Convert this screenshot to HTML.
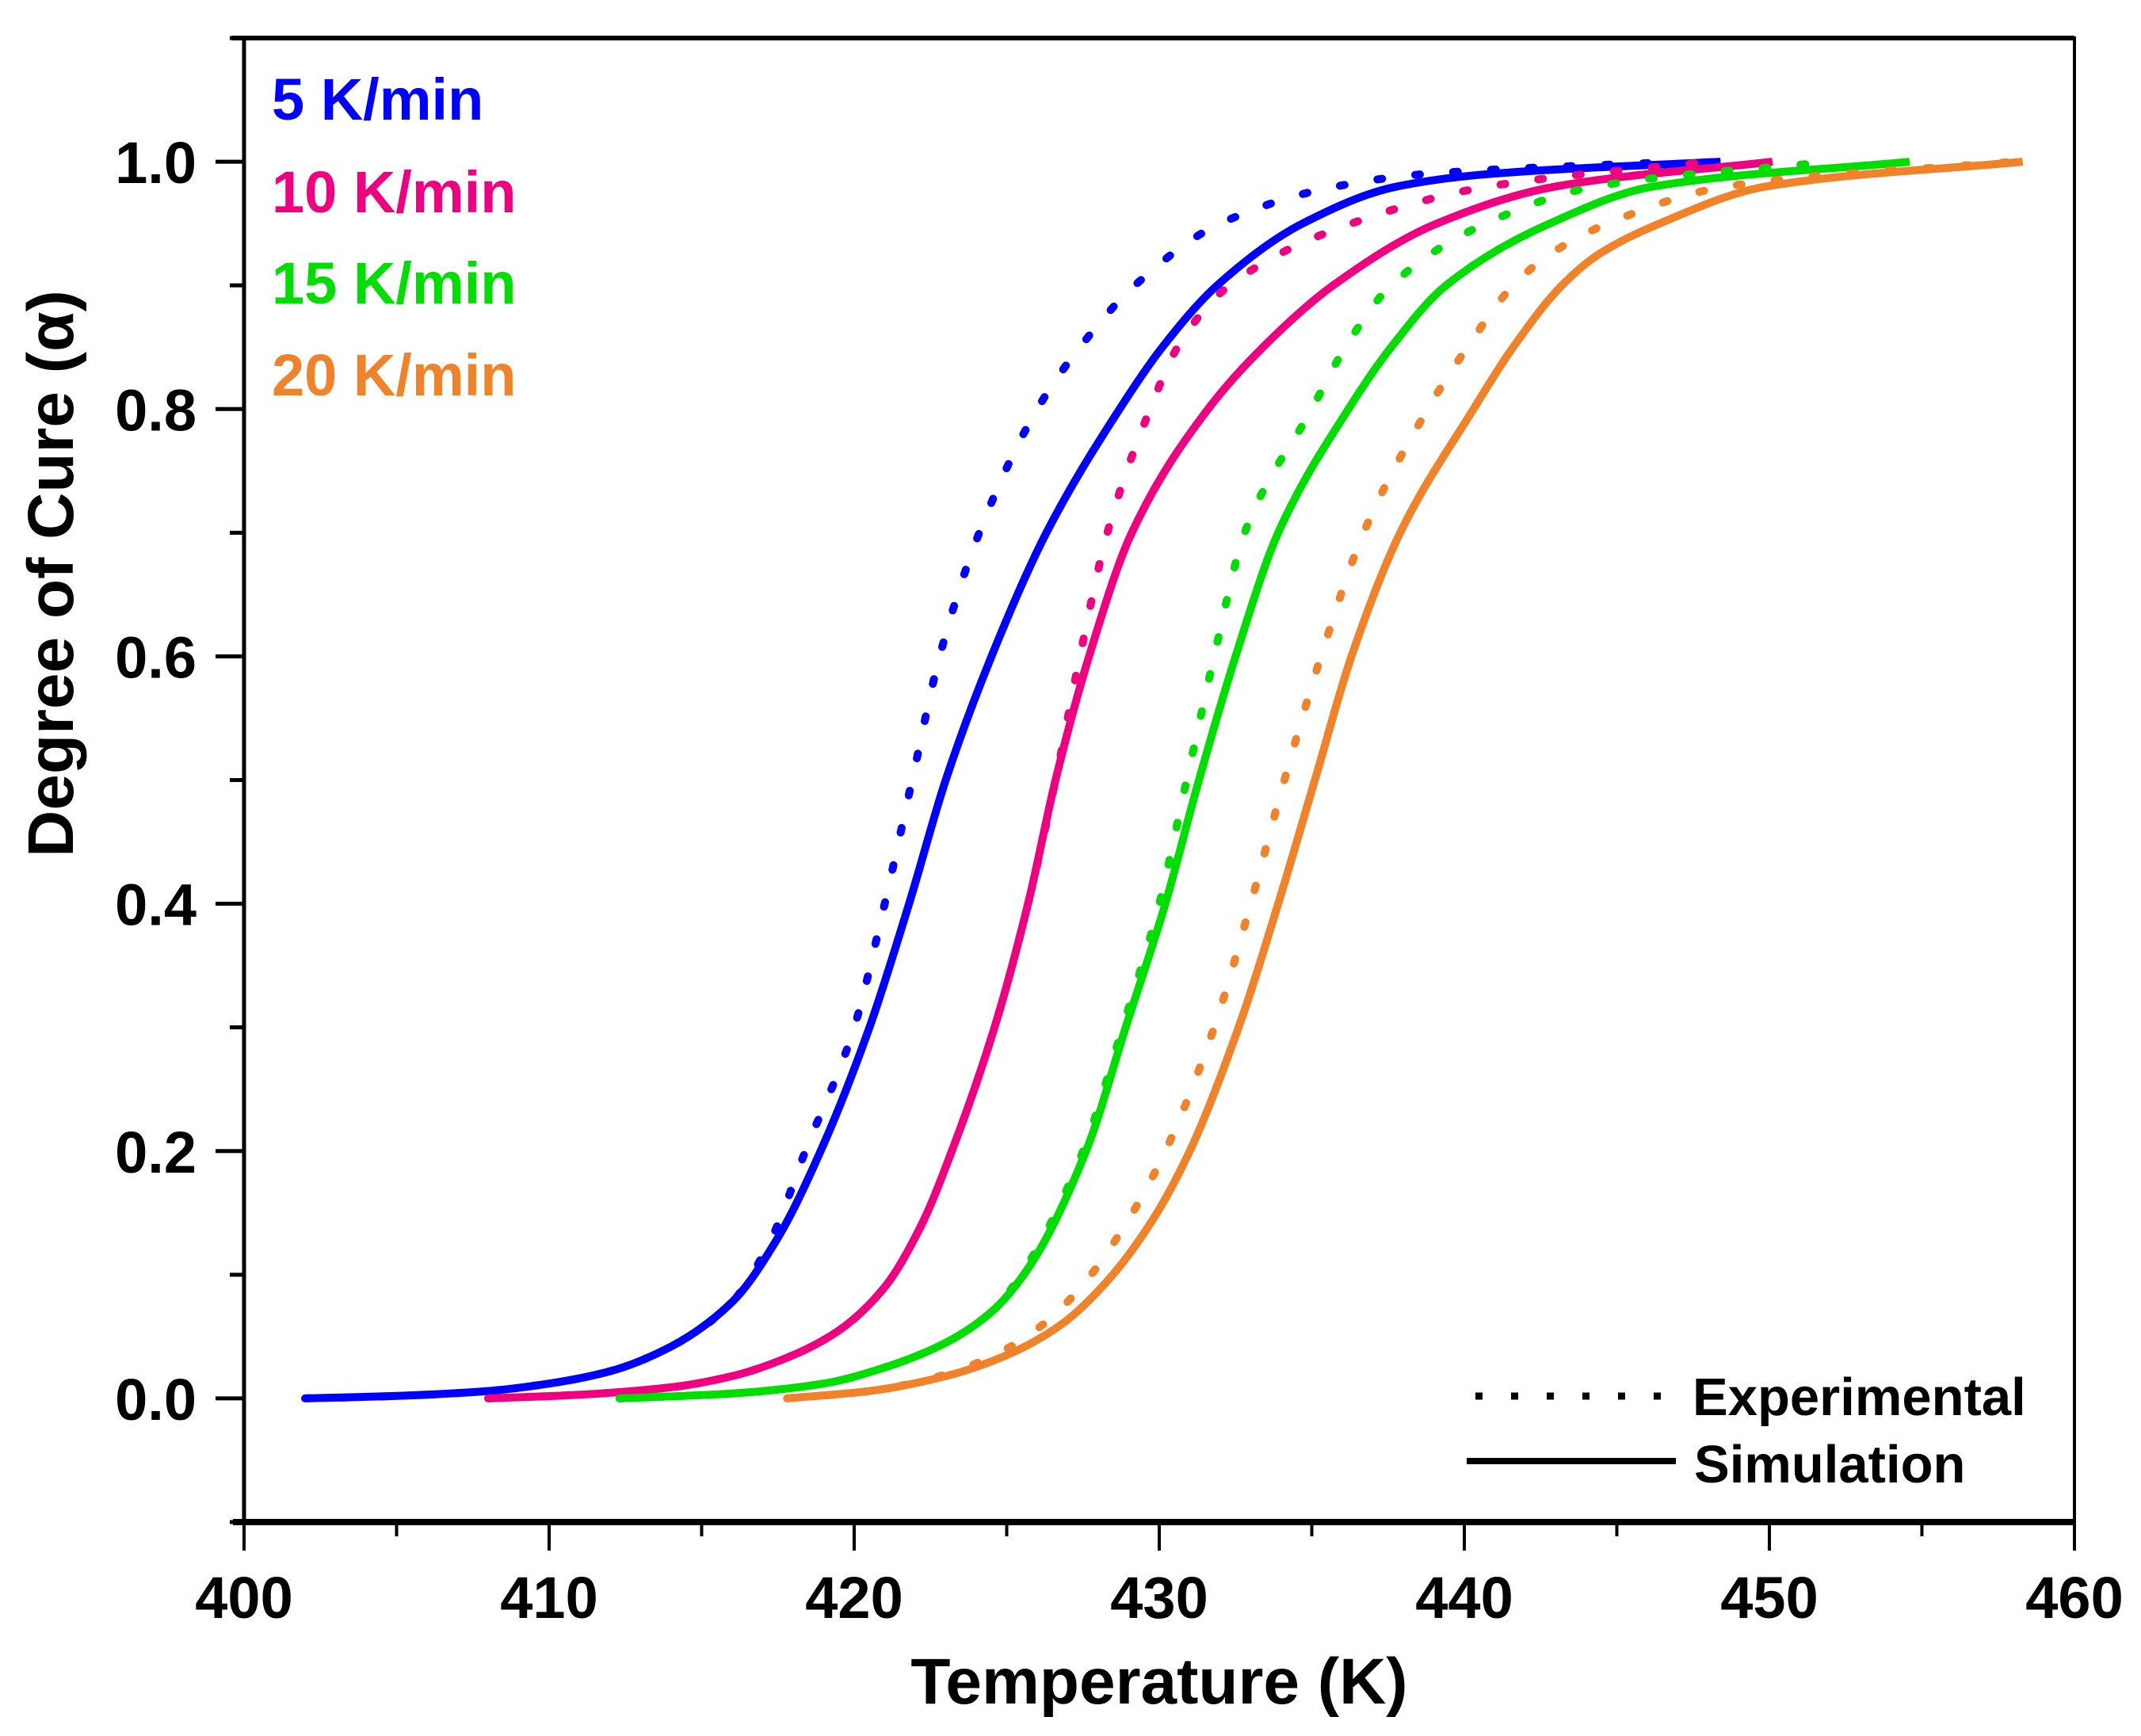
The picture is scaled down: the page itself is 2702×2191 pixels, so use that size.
<!DOCTYPE html>
<html><head><meta charset="utf-8"><style>
html,body{margin:0;padding:0;background:#fff;}
svg{display:block;font-family:"Liberation Sans",Arial,sans-serif;font-weight:bold;}
</style></head><body>
<svg id="chart" width="2702" height="2191" viewBox="0 0 2702 2191" xmlns="http://www.w3.org/2000/svg">
<g id="plot"></g>
<g id="axes"></g>
<text x="1463" y="2150" font-size="82" text-anchor="middle">Temperature (K)</text>
<text x="0" y="0" font-size="82" text-anchor="middle" transform="translate(92,724) rotate(-90)">Degree of Cure (α)</text>
<g font-size="74">
<text x="343" y="151" fill="#0000ff">5 K/min</text>
<text x="343" y="268" fill="#ee0080">10 K/min</text>
<text x="343" y="383" fill="#00dd00">15 K/min</text>
<text x="343" y="499" fill="#f0822a">20 K/min</text>
</g>
<g font-size="67">
<line x1="1862" y1="1762" x2="2118" y2="1762" stroke="#000" stroke-width="9" stroke-dasharray="9 36"/>
<text x="2136" y="1786">Experimental</text>
<line x1="1851" y1="1844" x2="2115" y2="1844" stroke="#000" stroke-width="8"/>
<text x="2138" y="1871">Simulation</text>
</g>
</svg>
<script>
const xTicks=[400,410,420,430,440,450,460];
const yTicks=[0.0,0.2,0.4,0.6,0.8,1.0];
const blueSimT=[402,405,408,410,412,414,416,417.5,418.9,420.5,421.8,423.0,424.5,426.3,428.7,430.1,431.9,434.7,437.8,440.8,448.4];
const blueSimA=[0,0.002,0.006,0.012,0.022,0.042,0.078,0.13,0.2,0.3,0.4,0.5,0.6,0.7,0.8,0.85,0.9,0.95,0.98,0.99,1];
const blueExpT=[402,405,408,410,412,414,416,417.3,418.4,420.0,421.0,421.9,422.8,424.1,426.0,427.4,429.2,432.0,435.8,438.7,447];
const blueExpA=[0,0.002,0.006,0.012,0.022,0.042,0.078,0.13,0.2,0.3,0.4,0.5,0.6,0.7,0.8,0.85,0.9,0.95,0.98,0.99,1];
const pinkSimT=[408,411,414,416,418,419.5,421,422.2,423.2,424.6,425.7,426.6,427.7,429.1,431.6,433.4,435.7,439.1,443,450.1];
const pinkSimA=[0,0.003,0.009,0.018,0.035,0.055,0.09,0.14,0.2,0.3,0.4,0.5,0.6,0.7,0.8,0.85,0.9,0.95,0.98,1];
const pinkExpT=[408,411,414,416,418,419.5,421,422.2,423.2,424.6,425.7,426.6,427.4,428.3,429.7,430.6,432.3,436.3,440.8,448];
const pinkExpA=[0,0.003,0.009,0.018,0.035,0.055,0.09,0.14,0.2,0.3,0.4,0.5,0.6,0.7,0.8,0.85,0.9,0.95,0.98,1];
const greenSimT=[412.3,416,419,421,423,424.5,425.7,427.6,428.9,430.2,431.3,432.5,433.9,436.2,437.6,439.4,442.8,446.2,454.6];
const greenSimA=[0,0.004,0.012,0.025,0.045,0.07,0.105,0.2,0.3,0.4,0.5,0.6,0.7,0.8,0.85,0.9,0.95,0.98,1];
const greenExpT=[412.3,416,419,421,423,424.5,425.6,427.5,428.8,430,430.9,431.8,432.8,435.0,436.1,437.6,440.7,444.3,452];
const greenExpA=[0,0.004,0.012,0.025,0.045,0.07,0.105,0.2,0.3,0.4,0.5,0.6,0.7,0.8,0.85,0.9,0.95,0.98,1];
const orangeSimT=[417.8,420.5,423,425,426.8,428.3,429.8,431,432.6,433.9,435.1,436.3,437.9,440.3,441.6,443.2,444.4,446.4,449.9,458.3];
const orangeSimA=[0,0.006,0.018,0.035,0.06,0.095,0.145,0.2,0.3,0.4,0.5,0.6,0.7,0.8,0.85,0.9,0.925,0.95,0.98,1];
const orangeExpT=[417.8,420.5,422.8,424.6,426.2,427.6,429.0,430.2,431.8,433,434.1,435.3,436.7,438.8,440.1,441.6,442.8,444.7,448.6,458];
const orangeExpA=[0,0.006,0.018,0.035,0.06,0.095,0.145,0.2,0.3,0.4,0.5,0.6,0.7,0.8,0.85,0.9,0.925,0.95,0.98,1];
const seriesNames=['5-kmin','10-kmin','15-kmin','20-kmin'];
const seriesColors=['#0000ff','#ee0080','#00dd00','#f0822a'];

const X0=308,X1=2618,Y0=1921,Y1=48,XMIN=400,XMAX=460,YMIN=-0.1,YMAX=1.1;
const sx=v=>X0+(v-XMIN)/(XMAX-XMIN)*(X1-X0);
const sy=v=>Y0-(v-YMIN)/(YMAX-YMIN)*(Y0-Y1);
const NS='http://www.w3.org/2000/svg';
const plot=document.getElementById('plot');
const axes=document.getElementById('axes');
function mk(tag,attrs,parent){const e=document.createElementNS(NS,tag);for(const k in attrs)e.setAttribute(k,attrs[k]);parent.appendChild(e);return e;}
function pathFrom(T,A){
  const x=T.map(sx),y=A.map(sy),n=x.length;
  const d=[],m=new Array(n);
  for(let i=0;i<n-1;i++)d.push((y[i+1]-y[i])/(x[i+1]-x[i]));
  m[0]=d[0];m[n-1]=d[n-2];
  for(let i=1;i<n-1;i++){
    if(d[i-1]*d[i]<=0)m[i]=0;
    else{const h0=x[i]-x[i-1],h1=x[i+1]-x[i];const w1=2*h1+h0,w2=h1+2*h0;m[i]=(w1+w2)/(w1/d[i-1]+w2/d[i]);}
  }
  let s='M'+x[0].toFixed(1)+','+y[0].toFixed(1);
  for(let i=0;i<n-1;i++){
    const h=(x[i+1]-x[i])/3;
    s+=' C'+(x[i]+h).toFixed(1)+','+(y[i]+m[i]*h).toFixed(1)+' '+(x[i+1]-h).toFixed(1)+','+(y[i+1]-m[i+1]*h).toFixed(1)+' '+x[i+1].toFixed(1)+','+y[i+1].toFixed(1);
  }
  return s;
}
const simT=[blueSimT,pinkSimT,greenSimT,orangeSimT],simA=[blueSimA,pinkSimA,greenSimA,orangeSimA];
const expT=[blueExpT,pinkExpT,greenExpT,orangeExpT],expA=[blueExpA,pinkExpA,greenExpA,orangeExpA];
for(let s=0;s<4;s++){
  const e=mk('path',{d:pathFrom(expT[s],expA[s]),fill:'none',stroke:seriesColors[s],'stroke-width':10,'stroke-linecap':'round','stroke-dasharray':'6 42'},plot);
  
  
  const l=mk('path',{d:pathFrom(simT[s],simA[s]),fill:'none',stroke:seriesColors[s],'stroke-width':10},plot);
  
  
}
const fr=mk('rect',{x:X0,y:Y1,width:X1-X0,height:Y0-Y1,fill:'none',stroke:'#000','stroke-width':4},axes);


const xa=mk('line',{x1:X0-14,y1:Y0,x2:X1+2,y2:Y0,stroke:'#000','stroke-width':8},axes);


const ya=mk('line',{x1:X0,y1:Y1-2,x2:X0,y2:Y0,stroke:'#000','stroke-width':5},axes);


mk('line',{x1:X0-16,y1:Y1,x2:X1,y2:Y1,stroke:'#000','stroke-width':6},axes);
for(let v=400;v<=460;v+=5){
  const major=xTicks.includes(v);
  const t=mk('line',{x1:sx(v),y1:Y0,x2:sx(v),y2:Y0+(major?36:18),stroke:'#000','stroke-width':4},axes);
  
  
}
xTicks.forEach(v=>{
  const t=mk('text',{x:sx(v),y:2042,'font-size':74,'text-anchor':'middle'},axes);
  t.textContent=String(v);
  
  
});
for(let i=-1;i<=11;i++){
  const v=i/10;
  const major=(i>=0&&i%2===0);
  const t=mk('line',{x1:X0-(major?36:18),y1:sy(v),x2:X0,y2:sy(v),stroke:'#000','stroke-width':5},axes);
  
  
}
yTicks.forEach(v=>{
  const t=mk('text',{x:248,y:sy(v)+27,'font-size':74,'text-anchor':'end'},axes);
  t.textContent=v.toFixed(1);
  
  
});
</script>
</body></html>
